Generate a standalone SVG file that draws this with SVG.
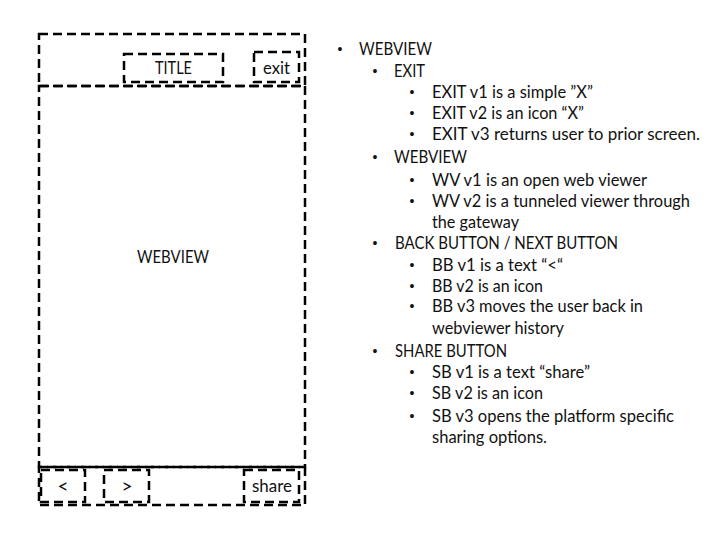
<svg xmlns="http://www.w3.org/2000/svg" width="720" height="540" viewBox="0 0 720 540">
  <style>
    .box { fill: none; stroke: #000; stroke-width: 2.5; stroke-dasharray: 9 5; }
    .t { font-family: Lato, "Liberation Sans", sans-serif; font-size: 17px; fill: #111; }
    .c { text-anchor: middle; }
    .b { font-family: "Liberation Sans", sans-serif; font-size: 14px; fill: #111; text-anchor: middle; }
    .k { font-size: 19px; }
  </style>
  <rect width="720" height="540" fill="#fff"/>

  <!-- phone frame: header, body, footer -->
  <g id="header">
    <rect class="box" x="39" y="34" width="266" height="52"/>
  </g>
  <g id="title">
    <rect class="box" x="124" y="54" width="99" height="28"/>
    <text class="t c" x="173.5" y="74" textLength="37" lengthAdjust="spacingAndGlyphs">TITLE</text>
  </g>
  <g id="exit">
    <rect class="box" x="254" y="52" width="45" height="30"/>
    <text class="t c" x="276.5" y="74" textLength="27" lengthAdjust="spacingAndGlyphs">exit</text>
  </g>
  <g id="webview">
    <rect class="box" x="39" y="86" width="266" height="381"/>
    <text class="t c" x="173" y="263" textLength="72" lengthAdjust="spacingAndGlyphs">WEBVIEW</text>
  </g>
  <g id="footer">
    <rect class="box" x="39" y="467" width="266" height="38"/>
  </g>
  <g id="back">
    <rect class="box" x="41" y="470" width="44" height="32"/>
    <text class="t c k" x="63" y="493">&lt;</text>
  </g>
  <g id="next">
    <rect class="box" x="104" y="470" width="45" height="32"/>
    <text class="t c k" x="127" y="493">&gt;</text>
  </g>
  <g id="share">
    <rect class="box" x="244" y="470" width="55" height="32"/>
    <text class="t c" x="272" y="492" textLength="40" lengthAdjust="spacingAndGlyphs">share</text>
  </g>

  <!-- notes list -->
  <g id="notes">
    <text class="b" x="340" y="54">•</text>
    <text class="t" x="359" y="55" textLength="73" lengthAdjust="spacingAndGlyphs">WEBVIEW</text>

    <text class="b" x="375" y="76">•</text>
    <text class="t" x="394" y="77" textLength="31" lengthAdjust="spacingAndGlyphs">EXIT</text>

    <text class="b" x="412" y="97">•</text>
    <text class="t" x="432" y="98" textLength="161" lengthAdjust="spacingAndGlyphs">EXIT v1 is a simple ”X”</text>
    <text class="b" x="412" y="118">•</text>
    <text class="t" x="432" y="119" textLength="152" lengthAdjust="spacingAndGlyphs">EXIT v2 is an icon “X”</text>
    <text class="b" x="412" y="139">•</text>
    <text class="t" x="432" y="140" textLength="268" lengthAdjust="spacingAndGlyphs">EXIT v3 returns user to prior screen.</text>

    <text class="b" x="375" y="162">•</text>
    <text class="t" x="394" y="163" textLength="73" lengthAdjust="spacingAndGlyphs">WEBVIEW</text>

    <text class="b" x="412" y="185">•</text>
    <text class="t" x="432" y="186" textLength="215" lengthAdjust="spacingAndGlyphs">WV v1 is an open web viewer</text>
    <text class="b" x="412" y="206">•</text>
    <text class="t" x="432" y="207" textLength="258" lengthAdjust="spacingAndGlyphs">WV v2 is a tunneled viewer through</text>
    <text class="t" x="432" y="228" textLength="87" lengthAdjust="spacingAndGlyphs">the gateway</text>

    <text class="b" x="375" y="248">•</text>
    <text class="t" x="395" y="249" textLength="223" lengthAdjust="spacingAndGlyphs">BACK BUTTON / NEXT BUTTON</text>

    <text class="b" x="412" y="270">•</text>
    <text class="t" x="432" y="271" textLength="131" lengthAdjust="spacingAndGlyphs">BB v1 is a text “&lt;“</text>
    <text class="b" x="412" y="291">•</text>
    <text class="t" x="432" y="292" textLength="111" lengthAdjust="spacingAndGlyphs">BB v2 is an icon</text>
    <text class="b" x="412" y="311">•</text>
    <text class="t" x="432" y="312" textLength="211" lengthAdjust="spacingAndGlyphs">BB v3 moves the user back in</text>
    <text class="t" x="432" y="334" textLength="132" lengthAdjust="spacingAndGlyphs">webviewer history</text>

    <text class="b" x="375" y="356">•</text>
    <text class="t" x="395" y="357" textLength="112" lengthAdjust="spacingAndGlyphs">SHARE BUTTON</text>

    <text class="b" x="412" y="377">•</text>
    <text class="t" x="432" y="378" textLength="158" lengthAdjust="spacingAndGlyphs">SB v1 is a text “share”</text>
    <text class="b" x="412" y="398">•</text>
    <text class="t" x="432" y="399" textLength="111" lengthAdjust="spacingAndGlyphs">SB v2 is an icon</text>
    <text class="b" x="412" y="421">•</text>
    <text class="t" x="432" y="422" textLength="242" lengthAdjust="spacingAndGlyphs">SB v3 opens the platform specific</text>
    <text class="t" x="432" y="443" textLength="115" lengthAdjust="spacingAndGlyphs">sharing options.</text>
  </g>
</svg>
